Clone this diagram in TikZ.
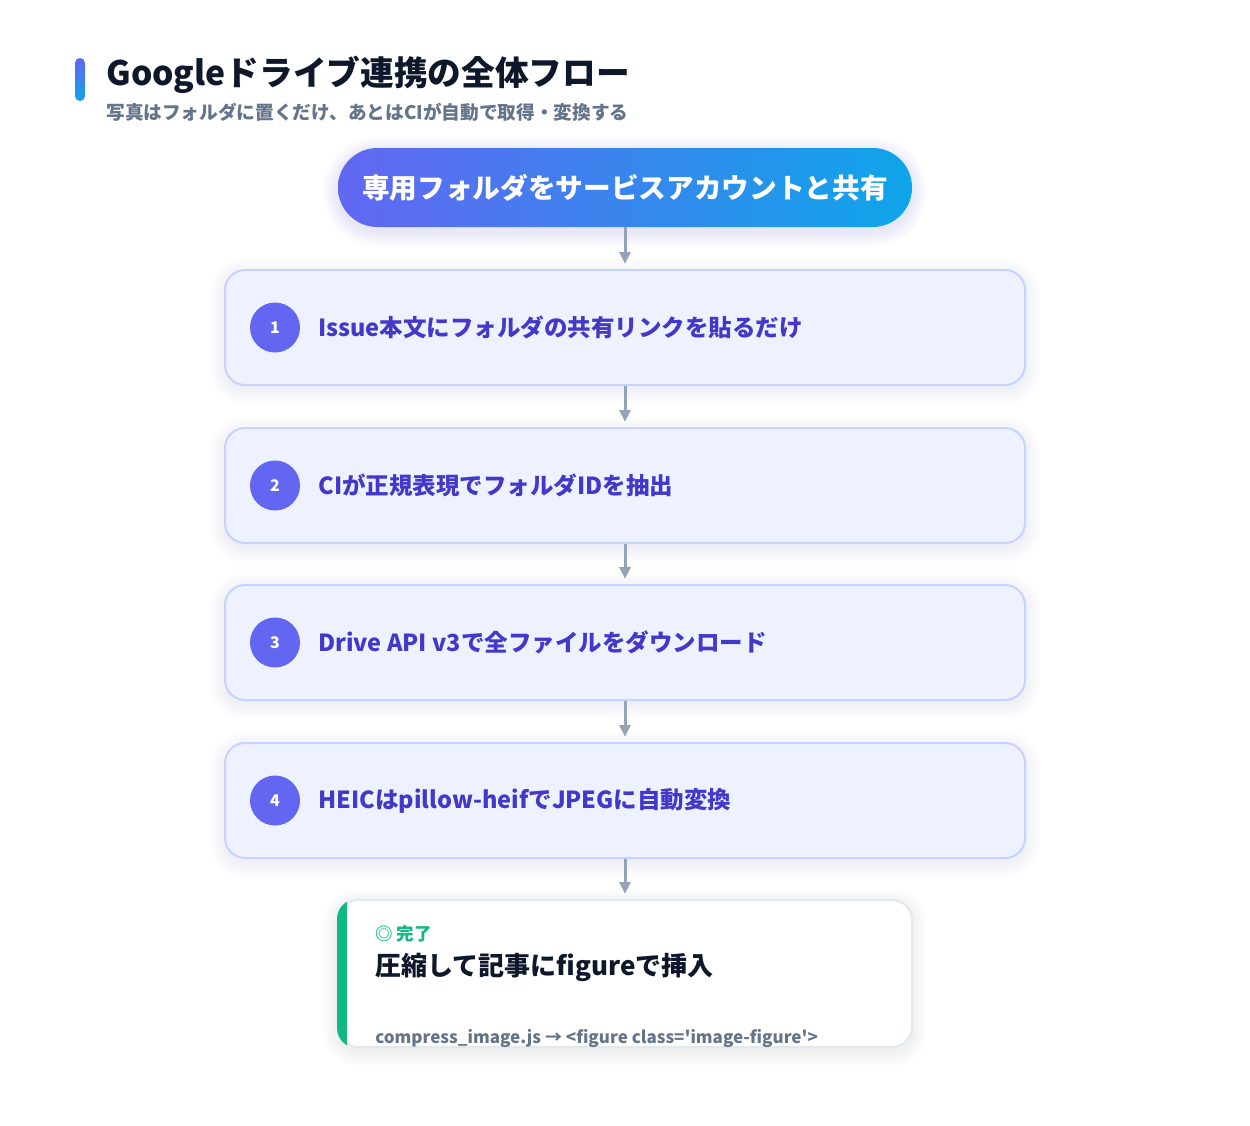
\documentclass[tikz,border=0pt]{standalone}
\usepackage{fontspec}
\setmainfont{Noto Sans CJK JP}
\newfontfamily\codefont{Noto Sans CJK JP}
\usetikzlibrary{arrows.meta,calc}
\definecolor{ink}{HTML}{0F172A}
\definecolor{subtxt}{HTML}{64748B}
\definecolor{indigo}{HTML}{6366F1}
\definecolor{sky}{HTML}{0EA5E9}
\definecolor{stepfill}{HTML}{EEF2FF}
\definecolor{stepline}{HTML}{C7D2FE}
\definecolor{steptxt}{HTML}{4338CA}
\definecolor{arrowc}{HTML}{94A3B8}
\definecolor{okgreen}{HTML}{10B981}
\definecolor{cardline}{HTML}{E2E8F0}
\tikzset{
  x=0.6pt, y=-0.6pt,
  stepbox/.style={draw=stepline, line width=1.2pt, fill=stepfill, rounded corners=12pt,
    minimum width=480pt, minimum height=69pt, inner sep=0pt},
  numdot/.style={circle, fill=indigo, minimum size=30pt, inner sep=0pt,
    text=white, font=\bfseries\fontsize{9.6pt}{11pt}\selectfont},
  steplabel/.style={anchor=west, inner sep=0pt, text=steptxt,
    font=\bfseries\fontsize{14.1pt}{17pt}\selectfont},
  flowarrow/.style={draw=arrowc, line width=1.8pt, shorten >=3pt,
    -{Triangle[width=6.5pt,length=7.2pt]}},
}
\newcommand\glow[7]{%
  \foreach \d in {1,3,...,15}{%
    \fill[#6, opacity=#7, rounded corners=#5+\d*0.6pt]
      ($(#1,#2)+(-\d,-\d+4)$) rectangle ($(#3,#4)+(\d,\d+4)$);}%
}
\begin{document}
\begin{tikzpicture}
\useasboundingbox (0,0) rectangle (1250,1125);
\fill[white] (0,0) rectangle (1250,1125);

% title
\shade[rounded corners=3pt, top color=indigo, bottom color=sky] (75,58) rectangle (85,101);
\node[anchor=base west, inner sep=0pt, text=ink, font=\bfseries\fontsize{20.2pt}{24pt}\selectfont]
  (title) at (106,85) {Googleドライブ連携の全体フロー};
\node[anchor=base west, inner sep=0pt, text=subtxt, font=\bfseries\fontsize{11.2pt}{13pt}\selectfont]
  (subtitle) at (106,119) {写真はフォルダに置くだけ、あとはCIが自動で取得・変換する};

% shadows
\glow{338}{148}{912}{227}{23pt}{indigo}{0.014}
\glow{225}{270}{1025}{385}{12pt}{indigo}{0.010}
\glow{225}{428}{1025}{543}{12pt}{indigo}{0.010}
\glow{225}{585}{1025}{700}{12pt}{indigo}{0.010}
\glow{225}{743}{1025}{858}{12pt}{indigo}{0.010}
\glow{338}{900}{912}{1047}{12pt}{ink}{0.007}

% start pill
\node[rounded corners=23.6pt, left color=indigo, right color=sky, minimum width=344.4pt,
  minimum height=47.4pt, inner sep=0pt, text=white,
  font=\bfseries\fontsize{16.6pt}{19pt}\selectfont]
  (pill) at (625,187.5) {専用フォルダをサービスアカウントと共有};

% steps
\node[stepbox] (s1) at (625,327.5) {};
\node[stepbox] (s2) at (625,485.5) {};
\node[stepbox] (s3) at (625,642.5) {};
\node[stepbox] (s4) at (625,800.5) {};
\node[numdot] (n1) at (275,327.5) {1};
\node[numdot] (n2) at (275,485.5) {2};
\node[numdot] (n3) at (275,642.5) {3};
\node[numdot] (n4) at (275,800.5) {4};
\node[steplabel] (t1) at (318,327.5) {Issue本文にフォルダの共有リンクを貼るだけ};
\node[steplabel] (t2) at (318,485.5) {CIが正規表現でフォルダIDを抽出};
\node[steplabel] (t3) at (318,642.5) {Drive API v3で全ファイルをダウンロード};
\node[steplabel] (t4) at (318,800.5) {HEICはpillow-heifでJPEGに自動変換};

% final card
\node[draw=cardline, line width=1.2pt, fill=white, rounded corners=12pt,
  minimum width=344.4pt, minimum height=88.2pt, inner sep=0pt] (fin) at (625,973.5) {};
\begin{scope}
  \clip[rounded corners=12pt] (fin.north west) rectangle (fin.south east);
  \fill[okgreen] ($(fin.north west)+(-2,-2)$) rectangle ($(fin.south west)+(10,2)$);
\end{scope}
\node[anchor=west, inner sep=0pt, text=okgreen, font=\bfseries\fontsize{10.5pt}{12pt}\selectfont]
  (done) at (375,934) {◎ 完了};
\node[anchor=west, inner sep=0pt, text=ink, font=\bfseries\fontsize{15.6pt}{18pt}\selectfont]
  (fintitle) at (375,967) {圧縮して記事にfigureで挿入};
\node[anchor=west, inner sep=0pt, text=subtxt, font=\codefont\bfseries\fontsize{10.2pt}{12pt}\selectfont]
  (code) at (375,1038) {compress\_image.js → <figure class='image-figure'>};

% arrows
\draw[flowarrow] (pill.south) -- (s1.north);
\draw[flowarrow] (s1.south) -- (s2.north);
\draw[flowarrow] (s2.south) -- (s3.north);
\draw[flowarrow] (s3.south) -- (s4.north);
\draw[flowarrow] (s4.south) -- (fin.north);
\end{tikzpicture}
\end{document}
